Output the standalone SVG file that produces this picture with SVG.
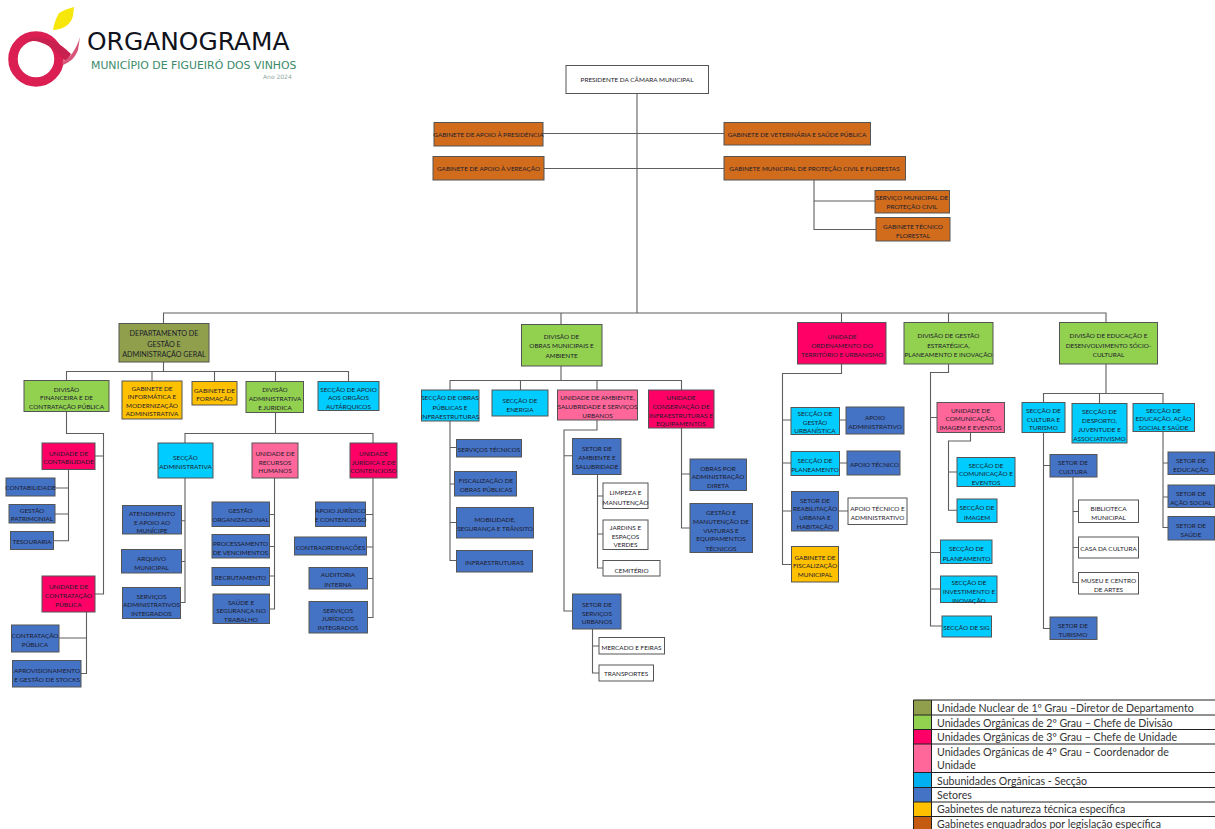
<svg xmlns="http://www.w3.org/2000/svg" width="1215" height="829" viewBox="0 0 1215 829">
<style>
rect{stroke:#555;stroke-width:1}
.o{fill:#d06c1c}.n{fill:#8f9f4b}.g{fill:#92d050}.r{fill:#ff0066}.p{fill:#ff6699}.c{fill:#00ccff}.b{fill:#4472c4}.y{fill:#ffc000}.w{fill:#fff}
text{font-family:"Lato","Liberation Sans",sans-serif;font-size:6.4px;fill:#1c1c2c;text-anchor:middle}
.k{font-size:7.2px}
#connectors path{fill:none;stroke:#5f5f5f;stroke-width:1.1}
#legend text{font-size:10.6px;fill:#333;text-anchor:start}
#legend rect{stroke:none}
#legend path{stroke:#222;stroke-width:1;fill:none}
.hd{font-family:"DejaVu Sans",sans-serif;text-anchor:start}
</style>
<g id="logo">
<path d="M59 13C64 10 70 8 74 7L73 16C71 23 66 29 53 30C54 24 56 18 59 13Z" fill="#f7e60a"/>
<circle cx="36" cy="59" r="23" fill="none" stroke="#dc1f52" stroke-width="9.5"/>
<path d="M26 42C38 38 54 46 66 62L71 54C58 40 42 36 31 38Z" fill="#c8204f"/>
<path d="M62 62C70 58 76 50 80 37L78 50C75 58 70 62 63 65Z" fill="#d8557a"/>
</g>
<g id="title">
<text class="hd" x="87" y="50" style="font-size:24.9px;fill:#10131c">ORGANOGRAMA</text>
<text class="hd" x="91" y="69" style="font-size:10.9px;fill:#3b8a6a">MUNICÍPIO DE FIGUEIRÓ DOS VINHOS</text>
<text class="hd" x="263" y="79" style="font-size:6px;fill:#8fa8a0">Ano 2024</text>
</g>
<g id="connectors">
<path d="M637 93V313M163.500 323V313H1106V323M543 133.500H724M544 168.500H724M814 180V229.500H876M814 201H875"/>
<path d="M163.500 362V371.500M66.500 381V371.500H348.500V381M152 371.500V381M214.500 371.500V381M275.500 371.500V381"/>
<path d="M66.500 411V433.500H103.500V594H95M95 456H103.500"/>
<path d="M68.500 469V540.700H53M55 488H68.500M55 514H68.500"/>
<path d="M86.500 612V673.500H81M59 638H86.500"/>
<path d="M275.500 412V433.500M185 443V433.500H373V443"/>
<path d="M185 478V602.500H180M181 520.700H185M181 561.500H185"/>
<path d="M274.500 478V609H269M269 514.500H274.500M269 546.500H274.500M269 576H274.500"/>
<path d="M373 478V617.500H367M365 514.500H373M366 547H373M367 578.500H373"/>
<path d="M561 313V324M561 366V380.500M450 390V380.500H681.500V390M520.500 380.500V390M597 380.500V390"/>
<path d="M450 421V560.500H456M450 447.500H456M450 484H454M450 522.500H456"/>
<path d="M597 420V430H564V611H572M564 455.700H572"/>
<path d="M597.500 474V568H603M597.500 496H603M597.500 534H603"/>
<path d="M592.500 629V673H599M592.500 646H599"/>
<path d="M681.500 428V528H690M681.500 474H690"/>
<path d="M841.500 313V323M841.500 364V373.500H782.500V564.500H791M782.500 420H791M782.500 463H791M782.500 511H791M839.500 420H846M839.500 463H847M838.500 511H848"/>
<path d="M948.500 313V323M948.500 364V372.500H930.500V626H942M930.500 417.500H937M930.500 552.500H940M930.500 589H940"/>
<path d="M970.500 432.500V441H948.500V510.300H957M948.500 472H957"/>
<path d="M1106 364V393.500M1043.500 402V393.500H1163V403M1099.500 393.500V403"/>
<path d="M1043.500 432V628.500H1050M1043.500 465.500H1050"/>
<path d="M1073 477V582.500H1078M1073 511.500H1078M1073 547.500H1078"/>
<path d="M1163 431V527.500H1168M1163 463H1168M1163 497H1168"/>
</g>
<g id="president"><rect class="w" x="566" y="65.500" width="142.500" height="28"/><text x="637" y="81.500">PRESIDENTE DA CÂMARA MUNICIPAL</text></g>
<g id="gab-presidencia"><rect class="o" x="434" y="122.500" width="109" height="23.500"/><text x="488.500" y="137">GABINETE DE APOIO À PRESIDÊNCIA</text></g>
<g id="gab-vereacao"><rect class="o" x="433" y="156.500" width="111" height="23.500"/><text x="488.500" y="171">GABINETE DE APOIO À VEREAÇÃO</text></g>
<g id="gab-veterinaria"><rect class="o" x="724" y="122.500" width="146.500" height="22.500"/><text x="797" y="136.500">GABINETE DE VETERINÁRIA E SAÚDE PÚBLICA</text></g>
<g id="gab-protecao"><rect class="o" x="724" y="156.500" width="181.500" height="23.500"/><text x="814.500" y="171">GABINETE  MUNICIPAL DE PROTEÇÃO CIVIL E FLORESTAS</text></g>
<g id="servico-protecao"><rect class="o" x="875" y="190.500" width="74.500" height="22.500"/><text x="912" y="200">SERVIÇO MUNICIPAL DE</text><text x="912" y="209">PROTEÇÃO CIVIL</text></g>
<g id="gab-florestal"><rect class="o" x="876" y="217.500" width="74" height="23.500"/><text x="913" y="229">GABINETE TÉCNICO</text><text x="913" y="238">FLORESTAL</text></g>

<g id="dep-gestao"><rect class="n" x="119" y="323.500" width="90" height="38.500"/><text class="k" x="164" y="336">DEPARTAMENTO DE</text><text class="k" x="164" y="346.500">GESTÃO E</text><text class="k" x="164" y="357">ADMINISTRAÇÃO GERAL</text></g>
<g id="div-financeira"><rect class="g" x="24" y="380.500" width="85" height="31"/><text x="66.500" y="391.500">DIVISÃO</text><text x="66.500" y="400">FINANCEIRA E DE</text><text x="66.500" y="408.500">CONTRATAÇÃO PÚBLICA</text></g>
<g id="gab-informatica"><rect class="y" x="122" y="381" width="60" height="38"/><text x="152" y="390.500">GABINETE DE</text><text x="152" y="399">INFORMÁTICA E</text><text x="152" y="407.500">MODERNIZAÇÃO</text><text x="152" y="416">ADMINISTRATIVA</text></g>
<g id="gab-formacao"><rect class="y" x="192" y="381.500" width="45" height="23.500"/><text x="214.500" y="392.500">GABINETE DE</text><text x="214.500" y="401">FORMAÇÃO</text></g>
<g id="div-administrativa"><rect class="g" x="246" y="381.500" width="57.500" height="31"/><text x="275" y="391.500">DIVISÃO</text><text x="275" y="401">ADMINISTRATIVA</text><text x="275" y="409.500">E JURIDICA</text></g>
<g id="sec-apoio"><rect class="c" x="318" y="381.500" width="61" height="29"/><text x="348.500" y="391.500">SECÇÃO DE APOIO</text><text x="348.500" y="400">AOS ORGÃOS</text><text x="348.500" y="408.500">AUTÁRQUICOS</text></g>
<g id="un-contabilidade"><rect class="r" x="42" y="443" width="53" height="26.500"/><text x="68.500" y="455.500">UNIDADE DE</text><text x="68.500" y="464">CONTABILIDADE</text></g>
<g id="sec-administrativa"><rect class="c" x="158" y="443" width="55" height="35"/><text x="185.500" y="460">SECÇÃO</text><text x="185.500" y="469">ADMINISTRATIVA</text></g>
<g id="un-rh"><rect class="p" x="252" y="443" width="46" height="35"/><text x="275" y="455.500">UNIDADE DE</text><text x="275" y="464.500">RECURSOS</text><text x="275" y="473">HUMANOS</text></g>
<g id="un-juridica"><rect class="r" x="350" y="443" width="47" height="35"/><text x="373.500" y="455.500">UNIDADE</text><text x="373.500" y="464.500">JURÍDICA E DE</text><text x="373.500" y="473">CONTENCIOSO</text></g>
<g id="contabilidade"><rect class="b" x="6" y="478" width="49" height="18"/><text x="30.500" y="490">CONTABILIDADE</text></g>
<g id="patrimonial"><rect class="b" x="9" y="504.500" width="46" height="18.500"/><text x="32" y="513">GESTÃO</text><text x="32" y="521">PATRIMONIAL</text></g>
<g id="tesouraria"><rect class="b" x="10.500" y="531.500" width="43" height="18"/><text x="32" y="544">TESOURARIA</text></g>
<g id="un-contratacao"><rect class="r" x="42" y="576" width="53" height="36"/><text x="68.500" y="589">UNIDADE DE</text><text x="68.500" y="597.500">CONTRATAÇÃO</text><text x="68.500" y="606.500">PÚBLICA</text></g>
<g id="contratacao"><rect class="b" x="11.500" y="625" width="47.500" height="27"/><text x="35" y="638">CONTRATAÇÃO</text><text x="35" y="647">PÚBLICA</text></g>
<g id="aprovisionamento"><rect class="b" x="12.500" y="660.500" width="68.500" height="26.500"/><text x="47" y="673">APROVISIONAMENTO</text><text x="47" y="681.500">E GESTÃO DE STOCKS</text></g>
<g id="atendimento"><rect class="b" x="122.500" y="505.500" width="59" height="28.500"/><text x="152" y="516">ATENDIMENTO</text><text x="152" y="524.500">E APOIO AO</text><text x="152" y="533">MUNÍCIPE</text></g>
<g id="arquivo"><rect class="b" x="121.500" y="549.500" width="60" height="23.500"/><text x="151.500" y="561">ARQUIVO</text><text x="151.500" y="569.500">MUNICIPAL</text></g>
<g id="serv-admin"><rect class="b" x="122.500" y="587.500" width="58" height="31"/><text x="151.500" y="598.500">SERVIÇOS</text><text x="151.500" y="607">ADMINISTRATIVOS</text><text x="151.500" y="615.500">INTEGRADOS</text></g>
<g id="gestao-org"><rect class="b" x="212" y="502" width="57.500" height="24.500"/><text x="240.500" y="513">GESTÃO</text><text x="240.500" y="522">ORGANIZACIONAL</text></g>
<g id="processamento"><rect class="b" x="212" y="534.500" width="57.500" height="23.500"/><text x="240.500" y="546">PROCESSAMENTO</text><text x="240.500" y="555">DE VENCIMENTOS</text></g>
<g id="recrutamento"><rect class="b" x="212" y="567.500" width="57.500" height="18"/><text x="240.500" y="580">RECRUTAMENTO</text></g>
<g id="saude-trab"><rect class="b" x="213" y="594" width="56.500" height="29.500"/><text x="241" y="604.500">SAÚDE E</text><text x="241" y="613">SEGURANÇA NO</text><text x="241" y="621.500">TRABALHO</text></g>
<g id="apoio-jur"><rect class="b" x="315.500" y="502" width="50" height="24.500"/><text x="340.500" y="513">APOIO JURÍDICO</text><text x="340.500" y="522">E CONTENCIOSO</text></g>
<g id="contraord"><rect class="b" x="294.500" y="537" width="72" height="18"/><text x="330.500" y="550">CONTRAORDENAÇÕES</text></g>
<g id="auditoria"><rect class="b" x="309" y="567.500" width="58.500" height="21.500"/><text x="338" y="577">AUDITORIA</text><text x="338" y="587">INTERNA</text></g>
<g id="serv-jur"><rect class="b" x="309" y="601.500" width="58.500" height="31.500"/><text x="338" y="612.500">SERVIÇOS</text><text x="338" y="621">JURÍDICOS</text><text x="338" y="629.500">INTEGRADOS</text></g>

<g id="div-obras"><rect class="g" x="521.500" y="324.500" width="80.500" height="41.500"/><text x="561.500" y="339">DIVISÃO DE</text><text x="561.500" y="348">OBRAS MUNICIPAIS E</text><text x="561.500" y="358">AMBIENTE</text></g>
<g id="sec-obras"><rect class="c" x="421.500" y="390" width="57.500" height="31"/><text x="450" y="400">SECÇÃO DE OBRAS</text><text x="450" y="409.500">PÚBLICAS E</text><text x="450" y="418.500">INFRAESTRUTURAS</text></g>
<g id="sec-energia"><rect class="c" x="492" y="390" width="56" height="26"/><text x="520" y="403">SECÇÃO DE</text><text x="520" y="411.500">ENERGIA</text></g>
<g id="un-ambiente"><rect class="p" x="557.500" y="390" width="80" height="30"/><text x="597.500" y="400">UNIDADE DE AMBIENTE,</text><text x="597.500" y="409">SALUBRIDADE E SERVIÇOS</text><text x="597.500" y="418">URBANOS</text></g>
<g id="un-conservacao"><rect class="r" x="648.500" y="390" width="65.500" height="38"/><text x="681" y="400">UNIDADE</text><text x="681" y="409">CONSERVAÇÃO DE</text><text x="681" y="417.500">INFRAESTRUTURAS E</text><text x="681" y="426">EQUIPAMENTOS</text></g>
<g id="serv-tec"><rect class="b" x="456.500" y="439.500" width="65" height="17.500"/><text x="489" y="452">SERVIÇOS TÉCNICOS</text></g>
<g id="fiscalizacao"><rect class="b" x="454.500" y="471.500" width="62" height="24.500"/><text x="486" y="483">FISCALIZAÇÃO DE</text><text x="486" y="492">OBRAS PÚBLICAS</text></g>
<g id="mobilidade"><rect class="b" x="456.500" y="507.500" width="77" height="30.500"/><text x="495" y="522">MOBILIDADE,</text><text x="495" y="531">SEGURANÇA E TRÂNSITO</text></g>
<g id="infra"><rect class="b" x="456.500" y="550.500" width="76" height="21.500"/><text x="494.500" y="564.500">INFRAESTRUTURAS</text></g>
<g id="setor-ambiente"><rect class="b" x="572.500" y="438.500" width="48.500" height="36"/><text x="597" y="451">SETOR DE</text><text x="597" y="460">AMBIENTE E</text><text x="597" y="469">SALUBRIDADE</text></g>
<g id="limpeza"><rect class="w" x="603" y="483" width="45" height="25.500"/><text x="625.500" y="494.500">LIMPEZA E</text><text x="625.500" y="504.500">MANUTENÇÃO</text></g>
<g id="jardins"><rect class="w" x="603" y="520" width="45" height="29.500"/><text x="625.500" y="529.500">JARDINS E</text><text x="625.500" y="538.500">ESPAÇOS</text><text x="625.500" y="547">VERDES</text></g>
<g id="cemiterio"><rect class="w" x="603" y="560.500" width="57" height="15.500"/><text x="631.500" y="573">CEMITÉRIO</text></g>
<g id="setor-urbanos"><rect class="b" x="572.500" y="594" width="48.500" height="35"/><text x="597" y="606.500">SETOR DE</text><text x="597" y="615.500">SERVIÇOS</text><text x="597" y="624">URBANOS</text></g>
<g id="mercado"><rect class="w" x="599" y="637.500" width="65.500" height="16.500"/><text x="631.500" y="649.500">MERCADO E FEIRAS</text></g>
<g id="transportes"><rect class="w" x="599" y="665" width="54.500" height="16"/><text x="626" y="676">TRANSPORTES</text></g>
<g id="obras-admin"><rect class="b" x="690" y="459" width="56.500" height="31.500"/><text x="718" y="470.500">OBRAS POR</text><text x="718" y="479">ADMINISTRAÇÃO</text><text x="718" y="487.500">DIRETA</text></g>
<g id="gestao-viaturas"><rect class="b" x="690" y="503.500" width="62.500" height="49"/><text x="721" y="515">GESTÃO E</text><text x="721" y="523.500">MANUTENÇÃO DE</text><text x="721" y="532.500">VIATURAS E</text><text x="721" y="541">EQUIPAMENTOS</text><text x="721" y="550.500">TÉCNICOS</text></g>

<g id="un-ordenamento"><rect class="r" x="797.500" y="322.500" width="88.500" height="41.500"/><text x="842" y="339">UNIDADE</text><text x="842" y="348">ORDENAMENTO DO</text><text x="842" y="356.500">TERRITÓRIO E URBANISMO</text></g>
<g id="div-estrategica"><rect class="g" x="904" y="322.500" width="89" height="41.500"/><text x="948.500" y="338">DIVISÃO DE GESTÃO</text><text x="948.500" y="347.500">ESTRATÉGICA,</text><text x="948.500" y="356.500">PLANEAMENTO E INOVAÇÃO</text></g>
<g id="div-educacao"><rect class="g" x="1059.500" y="322.500" width="98" height="41.500"/><text x="1108.500" y="338">DIVISÃO DE EDUCAÇÃO E</text><text x="1108.500" y="347.500">DESENVOLVIMENTO SÓCIO-</text><text x="1108.500" y="356.500">CULTURAL</text></g>
<g id="sec-urbanistica"><rect class="c" x="791" y="407.500" width="48.500" height="27"/><text x="815" y="415.500">SECÇÃO DE</text><text x="815" y="424.500">GESTÃO</text><text x="815" y="433">URBANÍSTICA</text></g>
<g id="apoio-admin"><rect class="b" x="846" y="407" width="58" height="27"/><text x="875" y="420">APOIO</text><text x="875" y="428.500">ADMINISTRATIVO</text></g>
<g id="sec-planeamento1"><rect class="c" x="791" y="451.500" width="48.500" height="24"/><text x="815" y="462.500">SECÇÃO DE</text><text x="815" y="472">PLANEAMENTO</text></g>
<g id="apoio-tecnico"><rect class="b" x="847" y="451" width="53" height="24"/><text x="874.500" y="467">APOIO TÉCNICO</text></g>
<g id="setor-reab"><rect class="b" x="791.500" y="491.500" width="47" height="39.500"/><text x="815" y="502.500">SETOR DE</text><text x="815" y="511">REABILITAÇÃO</text><text x="815" y="519.500">URBANA E</text><text x="815" y="529">HABITAÇÃO</text></g>
<g id="apoio-tec-admin"><rect class="w" x="848" y="498" width="59" height="26.500"/><text x="877.500" y="511">APOIO TÉCNICO E</text><text x="877.500" y="520">ADMINISTRATIVO</text></g>
<g id="gab-fiscalizacao"><rect class="y" x="791.500" y="546.500" width="47" height="35.500"/><text x="815" y="559.500">GABINETE DE</text><text x="815" y="568">FISCALIZAÇÃO</text><text x="815" y="576.500">MUNICIPAL</text></g>
<g id="un-comunicacao"><rect class="p" x="937" y="402.500" width="67.500" height="30"/><text x="970.500" y="412.500">UNIDADE DE</text><text x="970.500" y="421">COMUNICAÇÃO,</text><text x="970.500" y="429.500">IMAGEM E EVENTOS</text></g>
<g id="sec-comunicacao"><rect class="c" x="957" y="457.500" width="58" height="29"/><text x="986" y="467.500">SECÇÃO DE</text><text x="986" y="476">COMUNICAÇÃO E</text><text x="986" y="484.500">EVENTOS</text></g>
<g id="sec-imagem"><rect class="c" x="957" y="499" width="40" height="23.500"/><text x="977" y="510">SECÇÃO DE</text><text x="977" y="519.500">IMAGEM</text></g>
<g id="sec-planeamento2"><rect class="c" x="940.500" y="540" width="51.500" height="23.500"/><text x="966.500" y="551">SECÇÃO DE</text><text x="966.500" y="560.500">PLANEAMENTO</text></g>
<g id="sec-investimento"><rect class="c" x="940.500" y="576" width="56.500" height="26.500"/><text x="969" y="584.500">SECÇÃO DE</text><text x="969" y="594">INVESTIMENTO E</text><text x="969" y="602.500">INOVAÇÃO</text></g>
<g id="sec-sig"><rect class="c" x="942" y="616" width="49.500" height="21"/><text x="966.500" y="629.500">SECÇÃO DE SIG</text></g>
<g id="sec-cultura"><rect class="c" x="1022" y="402.500" width="43" height="30"/><text x="1043.500" y="412.500">SECÇÃO DE</text><text x="1043.500" y="421.500">CULTURA E</text><text x="1043.500" y="430">TURISMO</text></g>
<g id="sec-desporto"><rect class="c" x="1072" y="403.500" width="55" height="39.500"/><text x="1099.500" y="413.500">SECÇÃO DE</text><text x="1099.500" y="423">DESPORTO,</text><text x="1099.500" y="431.500">JUVENTUDE E</text><text x="1099.500" y="440.500">ASSOCIATIVISMO</text></g>
<g id="sec-educacao"><rect class="c" x="1133" y="403.500" width="61.500" height="28"/><text x="1163.500" y="412.500">SECÇÃO DE</text><text x="1163.500" y="421">EDUCAÇÃO, AÇÃO</text><text x="1163.500" y="430">SOCIAL E SAÚDE</text></g>
<g id="setor-cultura"><rect class="b" x="1050" y="454.500" width="47" height="22.500"/><text x="1073" y="465">SETOR DE</text><text x="1073" y="474">CULTURA</text></g>
<g id="biblioteca"><rect class="w" x="1078.500" y="500" width="60" height="22.500"/><text x="1108.500" y="510.500">BIBLIOTECA</text><text x="1108.500" y="519.500">MUNICIPAL</text></g>
<g id="casa-cultura"><rect class="w" x="1078.500" y="537" width="60" height="21"/><text x="1108.500" y="551">CASA DA CULTURA</text></g>
<g id="museu"><rect class="w" x="1078.500" y="572.500" width="60" height="21.500"/><text x="1108.500" y="582.500">MUSEU E CENTRO</text><text x="1108.500" y="592">DE ARTES</text></g>
<g id="setor-turismo"><rect class="b" x="1050" y="617" width="47" height="22.500"/><text x="1073" y="628">SETOR DE</text><text x="1073" y="636.500">TURISMO</text></g>
<g id="setor-educacao"><rect class="b" x="1168" y="452" width="46.500" height="22.500"/><text x="1191" y="463">SETOR DE</text><text x="1191" y="471.500">EDUCAÇÃO</text></g>
<g id="setor-social"><rect class="b" x="1168" y="485" width="46.500" height="22.500"/><text x="1191" y="496">SETOR DE</text><text x="1191" y="504.500">AÇÃO SOCIAL</text></g>
<g id="setor-saude"><rect class="b" x="1168" y="516.500" width="46.500" height="23.500"/><text x="1191" y="527.500">SETOR DE</text><text x="1191" y="537">SAÚDE</text></g>

<g id="legend">
<rect x="914" y="700" width="18" height="15" fill="#8f9f4b"/>
<rect x="914" y="715" width="18" height="14.500" fill="#92d050"/>
<rect x="914" y="729.500" width="18" height="14.500" fill="#ff0066"/>
<rect x="914" y="744" width="18" height="28.500" fill="#ff6699"/>
<rect x="914" y="772.500" width="18" height="15" fill="#00b0f0"/>
<rect x="914" y="787.500" width="18" height="14.500" fill="#4472c4"/>
<rect x="914" y="802" width="18" height="14.500" fill="#ffc000"/>
<rect x="914" y="816.500" width="18" height="12.500" fill="#c55a11"/>
<path d="M913.500 829V700H1215M931.500 700V829M913.500 715H1215M913.500 729.500H1215M913.500 744H1215M913.500 772.500H1215M913.500 787.500H1215M913.500 802H1215M913.500 816.500H1215"/>
<text x="937" y="712">Unidade Nuclear de 1º Grau –Diretor de Departamento</text>
<text x="937" y="726.500">Unidades Orgânicas de 2º Grau – Chefe de Divisão</text>
<text x="937" y="741">Unidades Orgânicas de 3º Grau – Chefe de Unidade</text>
<text x="937" y="756">Unidades Orgânicas de 4º Grau – Coordenador de</text>
<text x="937" y="769">Unidade</text>
<text x="937" y="784.500">Subunidades Orgânicas - Secção</text>
<text x="937" y="799">Setores</text>
<text x="937" y="813">Gabinetes de natureza técnica específica</text>
<text x="937" y="828">Gabinetes enquadrados por legislação específica</text>
</g>
</svg>
